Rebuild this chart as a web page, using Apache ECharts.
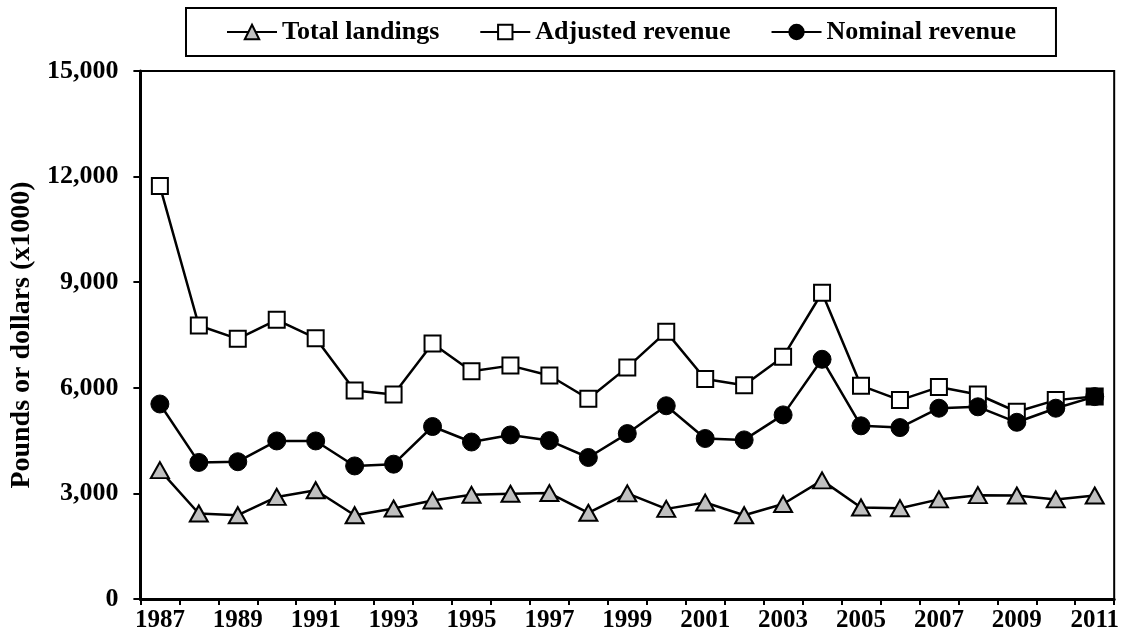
<!DOCTYPE html>
<html>
<head>
<meta charset="utf-8">
<script src="https://cdn.jsdelivr.net/npm/echarts@6/dist/echarts.min.js"></script>
<style>
  html, body { margin: 0; padding: 0; background: #fff; }
  #chart { width: 1122px; height: 635px; }
</style>
</head>
<body>
<div id="chart"></div>
<script>
// Landings and revenue by year, pounds or dollars in thousands
const years = ['1987','1988','1989','1990','1991','1992','1993','1994','1995','1996','1997','1998','1999',
               '2000','2001','2002','2003','2004','2005','2006','2007','2008','2009','2010','2011'];
const totalLandings = [3660, 2430, 2380, 2900, 3090, 2380, 2570, 2800, 2960, 2990, 3010, 2450, 3000,
                       2560, 2740, 2380, 2700, 3370, 2600, 2580, 2830, 2950, 2940, 2830, 2940];
const adjustedRevenue = [11730, 7770, 7390, 7930, 7410, 5920, 5810, 7260, 6470, 6630, 6350, 5690, 6580,
                         7590, 6250, 6070, 6880, 8700, 6060, 5650, 6020, 5810, 5320, 5650, 5750];
const nominalRevenue = [5540, 3880, 3900, 4490, 4490, 3780, 3830, 4900, 4460, 4660, 4500, 4020, 4700,
                        5490, 4560, 4520, 5230, 6810, 4920, 4870, 5420, 5460, 5020, 5420, 5750];
const yTicks = { min: 0, max: 15000, interval: 3000 };

const FONT = "'Liberation Serif', 'Times New Roman', serif";

const chart = echarts.init(document.getElementById('chart'), null, { renderer: 'canvas' });

// final adjusted-revenue point is shown filled
const adjustedData = adjustedRevenue.map((v, i) =>
  i === adjustedRevenue.length - 1 ? { value: v, itemStyle: { color: '#000' } } : v);

chart.setOption({
  animation: false,
  backgroundColor: '#fff',
  textStyle: { fontFamily: FONT, color: '#000', fontWeight: 'bold' },
  legend: {
    left: 186, top: 8,
    padding: [11, 40, 11, 40],
    borderColor: '#000', borderWidth: 2,
    itemWidth: 50, itemHeight: 18, itemGap: 40,
    textStyle: { fontFamily: FONT, fontSize: 26, fontWeight: 'bold', color: '#000' },
    data: ['Total landings', 'Adjusted revenue', 'Nominal revenue']
  },
  grid: {
    left: 140, right: 7, top: 71, bottom: 36,
    show: true, borderColor: '#000', borderWidth: 2, backgroundColor: 'transparent'
  },
  xAxis: {
    type: 'category',
    data: years,
    boundaryGap: true,
    axisLine: { lineStyle: { color: '#000', width: 3 } },
    axisTick: { show: true, interval: 0, length: 6, lineStyle: { color: '#000', width: 2 } },
    axisLabel: { interval: 1, margin: 9, fontFamily: FONT, fontSize: 25, fontWeight: 'bold', color: '#000' },
    splitLine: { show: false }
  },
  yAxis: {
    type: 'value',
    min: yTicks.min, max: yTicks.max, interval: yTicks.interval,
    name: 'Pounds or dollars (x1000)',
    nameLocation: 'middle', nameGap: 98,
    nameTextStyle: { fontFamily: FONT, fontSize: 28, fontWeight: 'bold', color: '#000' },
    axisLine: { show: true, lineStyle: { color: '#000', width: 3 } },
    axisTick: { show: true, length: 7, lineStyle: { color: '#000', width: 2 } },
    axisLabel: {
      margin: 22, fontFamily: FONT, fontSize: 26, fontWeight: 'bold', color: '#000',
      formatter: v => v.toLocaleString('en-US')
    },
    splitLine: { show: false }
  },
  series: [
    {
      name: 'Total landings', type: 'line', data: totalLandings,
      symbol: 'triangle', symbolSize: [18, 16],
      lineStyle: { color: '#000', width: 2.5 },
      itemStyle: { color: '#c0c0c0', borderColor: '#000', borderWidth: 2 },
      z: 2
    },
    {
      name: 'Adjusted revenue', type: 'line', data: adjustedData,
      symbol: 'rect', symbolSize: 16,
      lineStyle: { color: '#000', width: 2.5 },
      itemStyle: { color: '#fff', borderColor: '#000', borderWidth: 2 },
      z: 3
    },
    {
      name: 'Nominal revenue', type: 'line', data: nominalRevenue,
      symbol: 'circle', symbolSize: 18,
      lineStyle: { color: '#000', width: 2.5 },
      itemStyle: { color: '#000', borderColor: '#000', borderWidth: 1 },
      z: 4
    }
  ]
});
</script>
</body>
</html>
